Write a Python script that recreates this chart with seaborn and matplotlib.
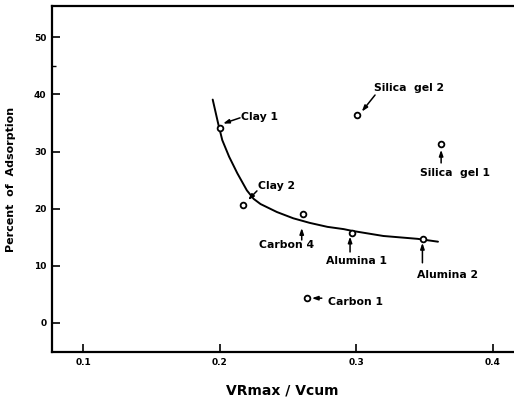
import matplotlib
matplotlib.use("Agg")
import matplotlib.pyplot as plt
import seaborn as sns
import pandas as pd

# measured points (VRmax / Vcum, percent of adsorption)
names = ["Clay 1", "Clay 2", "Carbon 4", "Alumina 1", "Alumina 2",
         "Carbon 1", "Silica  gel 2", "Silica  gel 1"]
vr_ratio = [0.200, 0.217, 0.261, 0.297, 0.349, 0.264, 0.301, 0.362]
adsorption = [34.2, 20.6, 19.0, 15.8, 14.6, 4.3, 36.4, 31.4]

# hand-drawn trend curve
curve_x = [0.195, 0.197, 0.199, 0.202, 0.207, 0.213, 0.220, 0.225, 0.230,
           0.242, 0.254, 0.266, 0.279, 0.291, 0.297, 0.320, 0.345, 0.360]
curve_y = [39.1, 37.0, 34.9, 32.0, 29.1, 26.2, 23.2, 21.7, 20.8, 19.4,
           18.3, 17.5, 16.8, 16.4, 16.1, 15.2, 14.7, 14.2]

points = pd.DataFrame({"name": names, "x": vr_ratio, "y": adsorption})
curve = pd.DataFrame({"x": curve_x, "y": curve_y})

# label text position, arrow start, arrow end
labels = {
    "Clay 1": ((0.2155, 36.1), (0.2150, 35.9), (0.2026, 34.9)),
    "Clay 2": ((0.2282, 23.9), (0.2274, 23.1), (0.2209, 21.5)),
    "Carbon 4": ((0.2290, 13.6), (0.2602, 14.5), (0.2602, 16.6)),
    "Alumina 1": ((0.2780, 10.9), (0.2956, 12.4), (0.2956, 15.1)),
    "Alumina 2": ((0.3445, 8.4), (0.3486, 10.5), (0.3486, 14.0)),
    "Carbon 1": ((0.2795, 3.7), (0.2749, 4.3), (0.2676, 4.3)),
    "Silica  gel 2": ((0.3132, 41.2), (0.3139, 39.9), (0.3042, 37.0)),
    "Silica  gel 1": ((0.3469, 26.2), (0.3623, 28.0), (0.3623, 30.3)),
}

sns.set_style("ticks")
plt.rcParams["font.family"] = ["DejaVu Sans"]
plt.rcParams["font.weight"] = "bold"
for key in ["text.color", "axes.labelcolor", "xtick.color", "ytick.color",
            "axes.edgecolor"]:
    plt.rcParams[key] = "black"

fig = plt.figure(figsize=(5.14, 4.0), dpi=100)
ax = fig.add_axes([0.1012, 0.12, 0.897, 0.865])

sns.lineplot(data=curve, x="x", y="y", sort=False, color="black",
             linewidth=1.4, ax=ax)
sns.scatterplot(data=points, x="x", y="y", marker="o", s=17,
                facecolor="white", edgecolor="black", linewidth=1.3,
                zorder=5, ax=ax)

for name in names:
    txt, start, end = labels[name]
    ax.text(txt[0], txt[1], name, ha="left", va="center",
            fontsize=7.8, fontweight="bold", color="black")
    ax.annotate("", xy=end, xytext=start,
                arrowprops=dict(arrowstyle="-|>,head_length=0.35,head_width=0.12",
                                color="black", lw=1.1, shrinkA=0, shrinkB=0))

ax.set_xlim(0.0773, 0.415)
ax.set_ylim(-5.13, 55.5)
ax.set_xticks([0.1, 0.2, 0.3, 0.4])
ax.set_xticklabels(["0.1", "0.2", "0.3", "0.4"])
ax.set_yticks([0, 10, 20, 30, 40, 50])
ax.set_yticks([45], minor=True)
ax.tick_params(axis="both", which="major", direction="in", length=6,
               width=1.2, labelsize=6.5, pad=4, colors="black")
ax.tick_params(axis="y", which="minor", direction="in", length=3, width=1,
               colors="black")

for lbl in ax.get_xticklabels() + ax.get_yticklabels():
    lbl.set_fontweight("bold")

ax.set_xlabel("VRmax / Vcum", fontsize=10, fontweight="bold", labelpad=12,
              color="black")
ax.set_ylabel("Percent  of  Adsorption", fontsize=8, fontweight="bold",
              labelpad=13, color="black")

ax.spines["right"].set_visible(False)
for side in ["left", "bottom", "top"]:
    ax.spines[side].set_linewidth(1.6)
    ax.spines[side].set_color("black")

fig.savefig("out.png", dpi=100)
